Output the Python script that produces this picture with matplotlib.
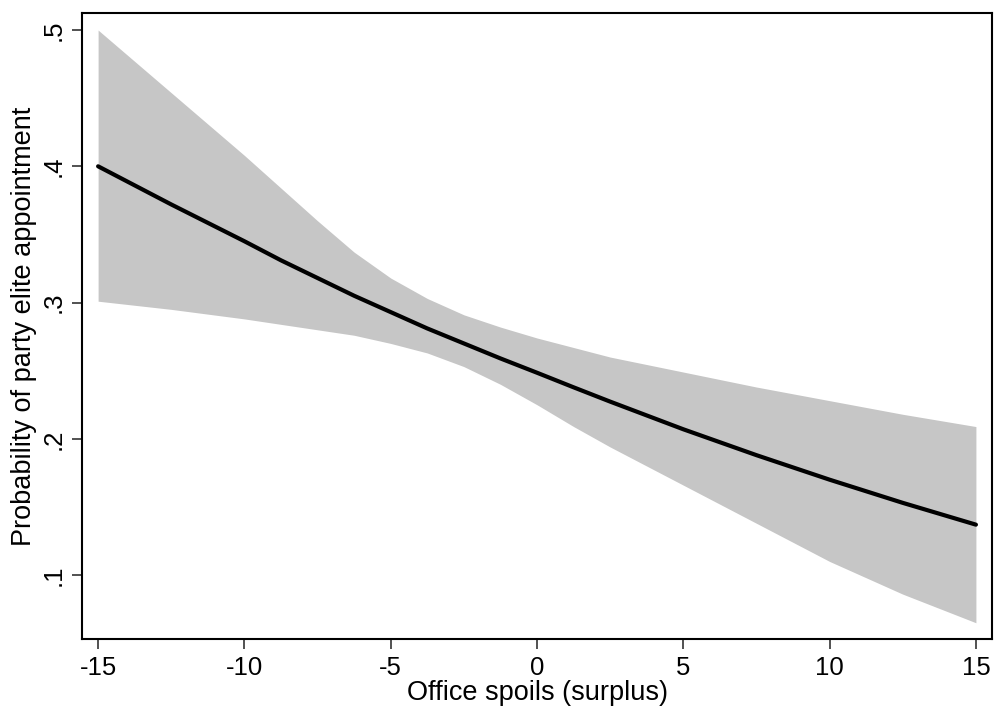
import matplotlib
matplotlib.use("Agg")
import matplotlib.pyplot as plt

# Predicted probability of appointment with its 95% confidence band
spoils = [-15, -12.5, -10, -8.75, -7.5, -6.25, -5, -3.75, -2.5, -1.25, 0, 1.25, 2.5,
          5, 7.5, 10, 12.5, 15]
prob = [0.400, 0.372, 0.345, 0.331, 0.318, 0.305, 0.293, 0.281, 0.270, 0.259, 0.2485,
        0.2378, 0.2273, 0.207, 0.188, 0.170, 0.153, 0.137]
ci_upper = [0.500, 0.454, 0.408, 0.384, 0.360, 0.337, 0.318, 0.303, 0.291, 0.282, 0.274,
            0.267, 0.260, 0.249, 0.238, 0.228, 0.218, 0.209]
ci_lower = [0.301, 0.295, 0.288, 0.284, 0.280, 0.276, 0.270, 0.263, 0.253, 0.240, 0.225,
            0.209, 0.194, 0.166, 0.138, 0.110, 0.086, 0.065]

x_ticks = [-15, -10, -5, 0, 5, 10, 15]
x_ticklabels = ["-15", "-10", "-5", "0", "5", "10", "15"]
y_ticks = [0.1, 0.2, 0.3, 0.4, 0.5]
y_ticklabels = [".1", ".2", ".3", ".4", ".5"]

plt.rcParams["font.family"] = ["Liberation Sans", "DejaVu Sans"]

fig = plt.figure(figsize=(9.94, 7.11), dpi=100)
ax = fig.add_axes([0.0825, 0.1013, 0.9155, 0.8804])

ax.fill_between(spoils, ci_lower, ci_upper, color="#c6c6c6", linewidth=0, zorder=1)
ax.plot(spoils, prob, color="black", linewidth=3, solid_capstyle="round",
        solid_joinstyle="round", zorder=2)

ax.set_xlim(-15.55, 15.55)
ax.set_ylim(0.0531, 0.5125)
ax.set_xticks(x_ticks)
ax.set_xticklabels(x_ticklabels)
ax.set_yticks(y_ticks)
ax.set_yticklabels(y_ticklabels, rotation=90, va="center")

ax.tick_params(axis="both", labelsize=18.5, length=7, width=1.2, color="#333333")
ax.tick_params(axis="y", pad=5)
ax.tick_params(axis="x", pad=5)
for s in ax.spines.values():
    s.set_linewidth(1.5)
    s.set_color("black")

ax.set_xlabel("Office spoils (surplus)", fontsize=19.5, labelpad=0)
ax.set_ylabel("Probability of party elite appointment", fontsize=19.5, labelpad=3)

fig.savefig("out.png", dpi=100, facecolor="white")
